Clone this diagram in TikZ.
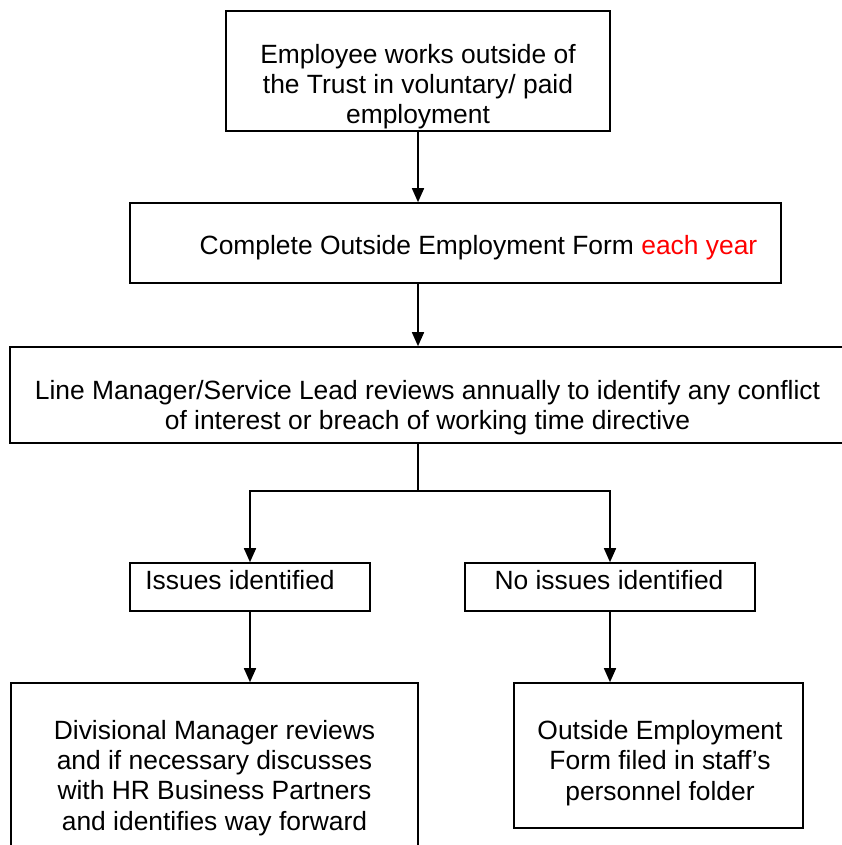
\documentclass[tikz,border=0pt]{standalone}
\usepackage{fontspec}
\setmainfont{Liberation Sans}
\usetikzlibrary{arrows.meta}

\begin{document}
\begin{tikzpicture}[
            x=1pt, y=-1pt,
            box/.style={draw, rectangle, line width=1.6pt, inner sep=0pt},
            txt/.style={align=center, inner sep=0pt, font=\fontsize{26.4}{30.2}\selectfont},
            link/.style={->, line width=1.6pt},
            >={Triangle[length=14pt, width=12pt]}
        ]
            \useasboundingbox (0,0) rectangle (841,845);

            % boxes
            \node[box, minimum width=384pt, minimum height=120pt] (b1) at (418,71) {};
            \node[box, minimum width=651pt, minimum height=80pt] (b2) at (455.5,243) {};
            \node[box, minimum width=835pt, minimum height=96pt] (b3) at (427.5,395) {};
            \node[box, minimum width=240pt, minimum height=48pt] (b4) at (250,587) {};
            \node[box, minimum width=290pt, minimum height=48pt] (b5) at (610,587) {};
            \node[box, minimum width=407pt, minimum height=190pt] (b6) at (214.5,778) {};
            \node[box, minimum width=289pt, minimum height=145pt] (b7) at (658.5,755.5) {};

            % texts
            \node[txt] (t1) at (418,86.8) {Employee works outside of\\the Trust in voluntary/ paid\\employment};
            \node[txt] (t2) at (478.5,248) {Complete Outside Employment Form \textcolor{red}{each year}};
            \node[txt] (t3) at (427.5,408) {Line Manager/Service Lead reviews annually to identify any conflict\\of interest or breach of working time directive};
            \node[txt, anchor=base] (t4) at (240,589) {Issues identified};
            \node[txt, anchor=base] (t5) at (609,589) {No issues identified};
            \node[txt] (t6) at (214.5,778) {Divisional Manager reviews\\and if necessary discusses\\with HR Business Partners\\and identifies way forward};
            \node[txt] (t7) at (660,763) {Outside Employment\\Form filed in staff’s\\personnel folder};

            % connectors
            \coordinate (split) at (418,491);
            \draw[link] (b1.south) -- (b1.south |- b2.north);
            \draw[link] (b1.south |- b2.south) -- (b1.south |- b3.north);
            \draw[line width=1.6pt] (b1.south |- b3.south) -- (split);
            \draw[link] (split) -| (b4.north);
            \draw[link] (split) -| (b5.north);
            \draw[link] (b4.south) -- (b4.south |- b6.north);
            \draw[link] (b5.south) -- (b5.south |- b7.north);
        \end{tikzpicture}
\end{document}
